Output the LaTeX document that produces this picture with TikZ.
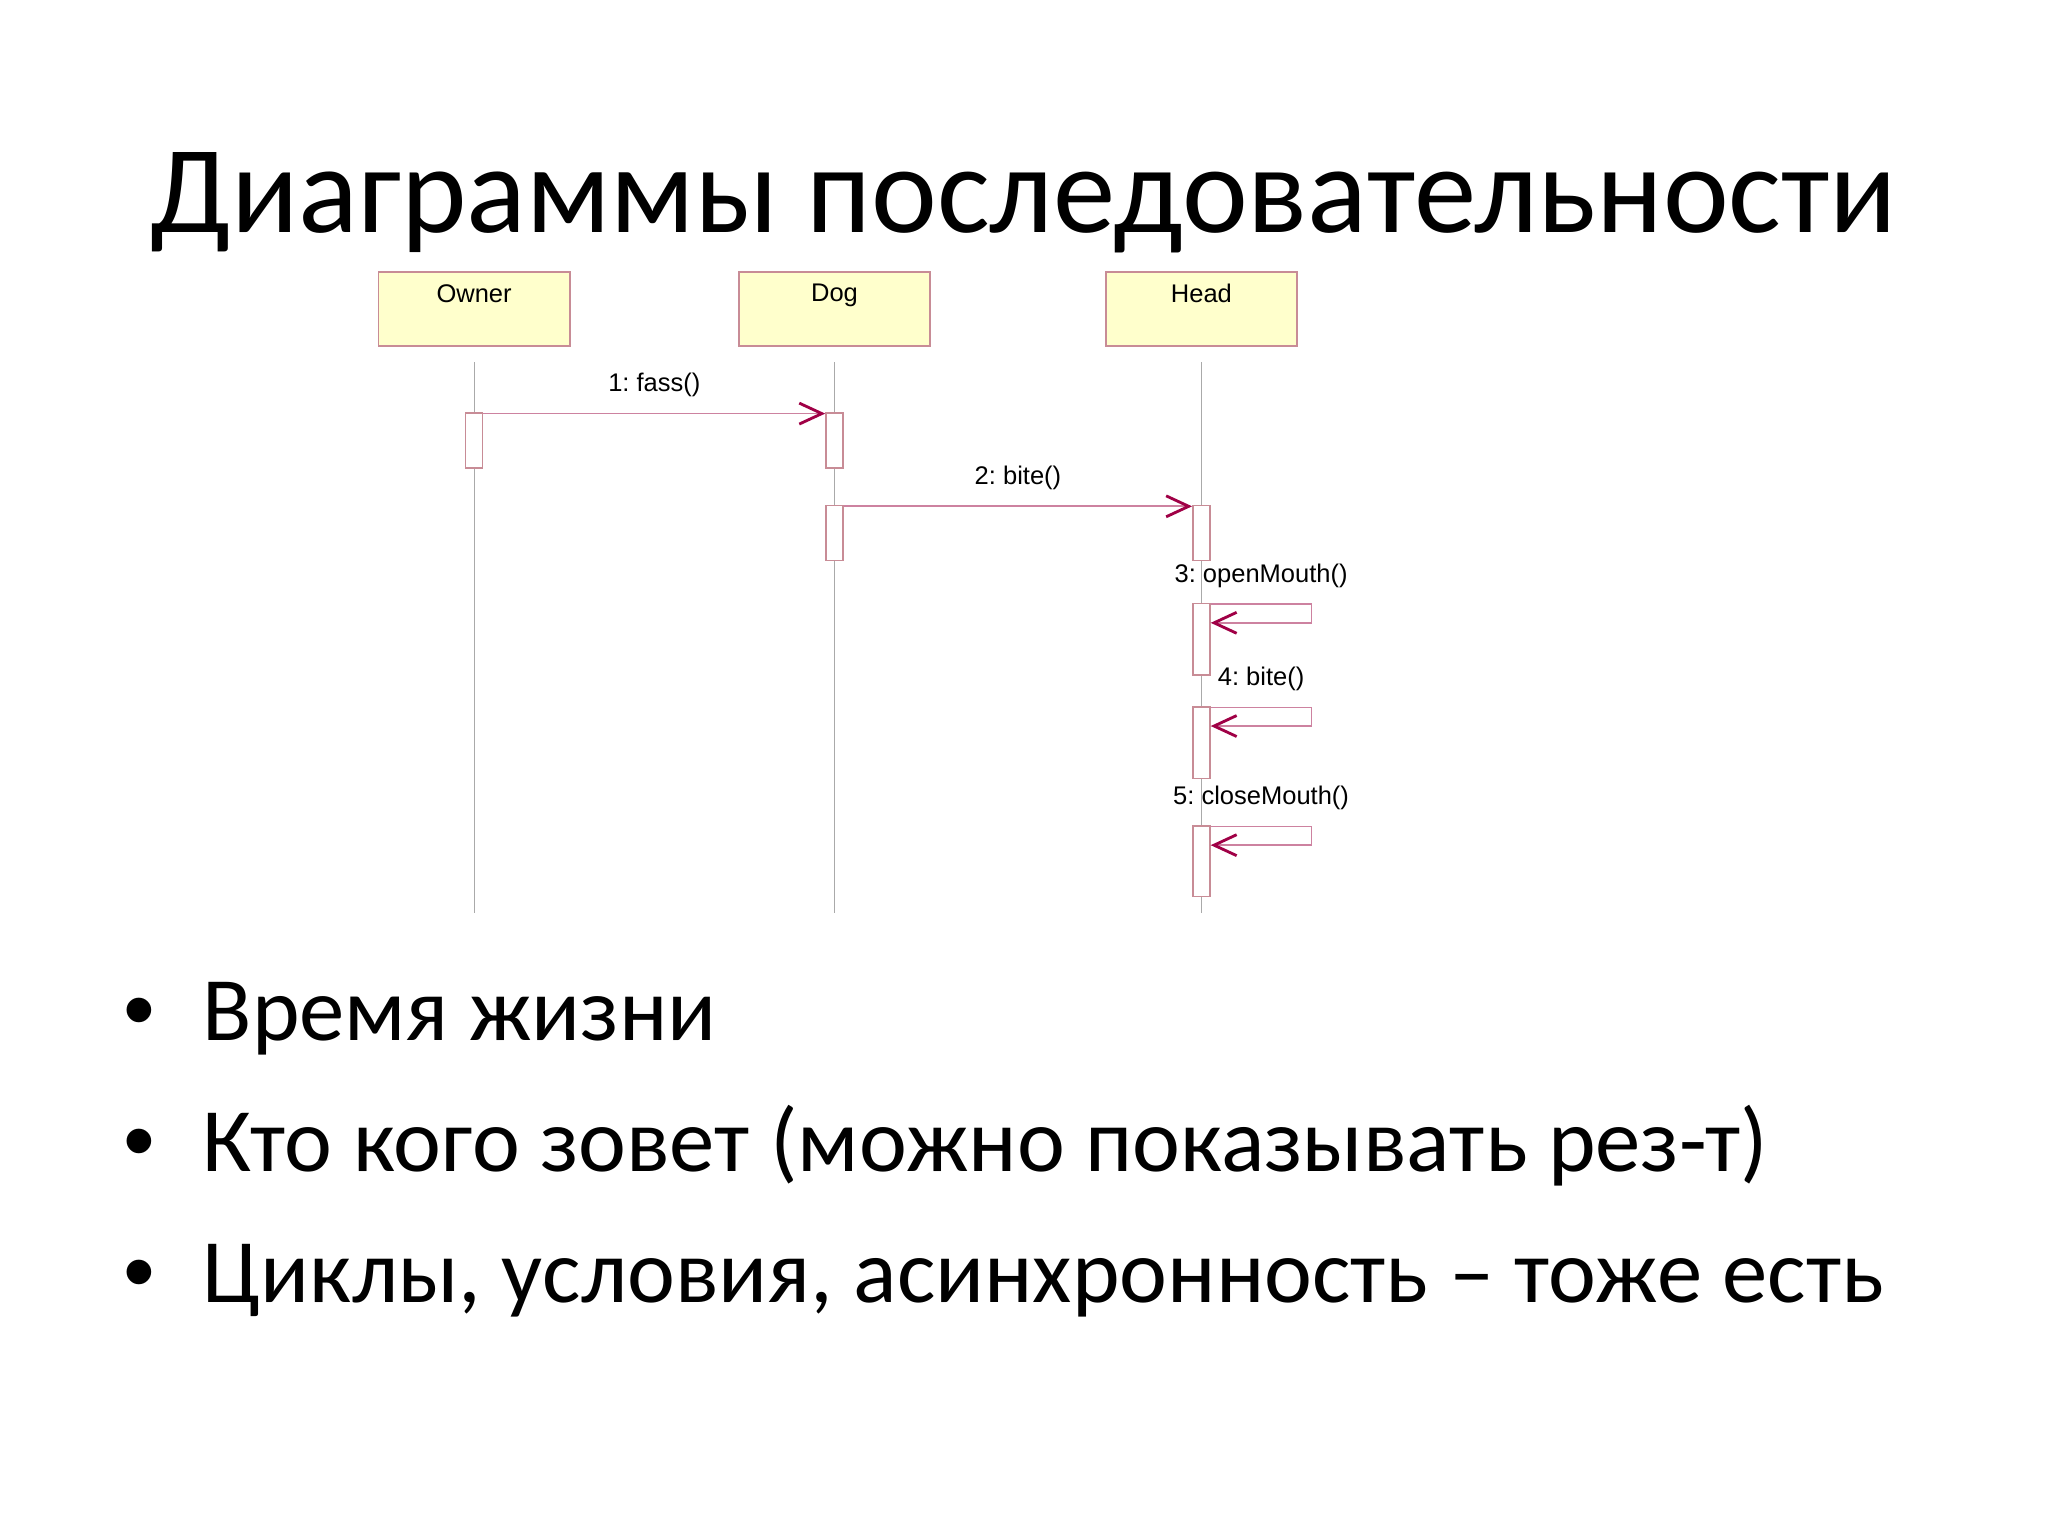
\documentclass[tikz,border=0pt]{standalone}
\usepackage{fontspec}
\setmainfont{Carlito}
\newfontfamily\umlfont{Liberation Sans}
\usepackage{tikz}
\usetikzlibrary{calc}
\usetikzlibrary{positioning}
\usetikzlibrary{arrows.meta}
\definecolor{umlborder}{RGB}{200,140,150}
\definecolor{umlfill}{RGB}{255,255,204}
\definecolor{msgpink}{RGB}{205,130,160}
\definecolor{headred}{RGB}{160,0,70}
\definecolor{lifegray}{RGB}{170,170,170}
\tikzset{
    obj/.style={draw=umlborder, fill=umlfill, line width=0.6pt, minimum width=2.37cm, minimum height=0.92cm, inner sep=0pt},
    act/.style={draw=umlborder, fill=white, line width=0.6pt, minimum width=0.21cm, inner sep=0pt},
    life/.style={draw=lifegray, line width=0.4pt},
    msg/.style={draw=msgpink, line width=0.6pt, -{Straight Barb[length=0.28cm, width=0.26cm, line width=1pt, color=headred]}},
    lbl/.style={font=\umlfont\fontsize{9}{10}\selectfont, inner sep=0pt},
}
\frenchspacing

\begin{document}
\begin{tikzpicture}
                    \useasboundingbox[fill=white] (0,0) rectangle (25.4,-19.05);
                    \node[anchor=base, font=\fontsize{44}{53}\selectfont] (title) at (12.7,-2.88) {Диаграммы последовательности};

                    \node[obj, label={[lbl, below=0.16cm]north:Owner}] (owner) at (5.88,-3.83) {};
                    \node[obj, label={[lbl, below=0.16cm]north:Dog}] (dog) at (10.35,-3.83) {};
                    \node[obj, label={[lbl, below=0.16cm]north:Head}] (head) at (14.90,-3.83) {};
                    \coordinate (endline) at (0,-11.32);
                    \draw[life] ([yshift=-0.19cm]owner.south) -- (owner |- endline);
                    \draw[life] ([yshift=-0.19cm]dog.south) -- (dog |- endline);
                    \draw[life] ([yshift=-0.19cm]head.south) -- (head |- endline);

                    \node[act, minimum height=0.68cm] (o1) at (5.88,-5.46) {};
                    \node[act, minimum height=0.68cm] (d1) at (10.35,-5.46) {};
                    \node[act, minimum height=0.68cm] (d2) at (10.35,-6.61) {};
                    \node[act, minimum height=0.68cm] (h1) at (14.90,-6.61) {};
                    \node[act, minimum height=0.89cm] (h2) at (14.90,-7.93) {};
                    \node[act, minimum height=0.89cm] (h3) at (14.90,-9.21) {};
                    \node[act, minimum height=0.875cm] (h4) at (14.90,-10.68) {};

                    \draw[msg] ([yshift=-0.02cm]o1.north east) -- ([yshift=-0.02cm]d1.north west) node[lbl, midway, above=0.2cm] (m1) {1: fass()};
                    \draw[msg] ([yshift=-0.02cm]d2.north east) -- ([yshift=-0.02cm]h1.north west) node[lbl, midway, above=0.2cm] (m2) {2: bite()};
                    \draw[msg] ([yshift=-0.02cm]h2.north east) -- ++(1.25,0) node[lbl, midway, above=0.2cm] (m3) {3: openMouth()} -- ++(0,-0.23) -- ([yshift=-0.25cm]h2.north east);
                    \draw[msg] ([yshift=-0.02cm]h3.north east) -- ++(1.25,0) node[lbl, midway, above=0.2cm] (m4) {4: bite()} -- ++(0,-0.23) -- ([yshift=-0.25cm]h3.north east);
                    \draw[msg] ([yshift=-0.02cm]h4.north east) -- ++(1.25,0) node[lbl, midway, above=0.2cm] (m5) {5: closeMouth()} -- ++(0,-0.23) -- ([yshift=-0.25cm]h4.north east);

                    \foreach \txt [count=\i] in {{Время жизни},{Кто кого зовет (можно показывать рез-т)},{Циклы, условия, асинхронность – тоже есть}} {
                        \node[anchor=base, font=\umlfont\fontsize{32}{38}\selectfont] (dot\i) at (1.73,{-12.91-1.625*(\i-1)}) {•};
                        \node[anchor=base west, font=\fontsize{32}{38}\selectfont, inner sep=0pt] (item\i) at (2.51,{-12.91-1.625*(\i-1)}) {\txt};
                    }
\end{tikzpicture}
\end{document}
